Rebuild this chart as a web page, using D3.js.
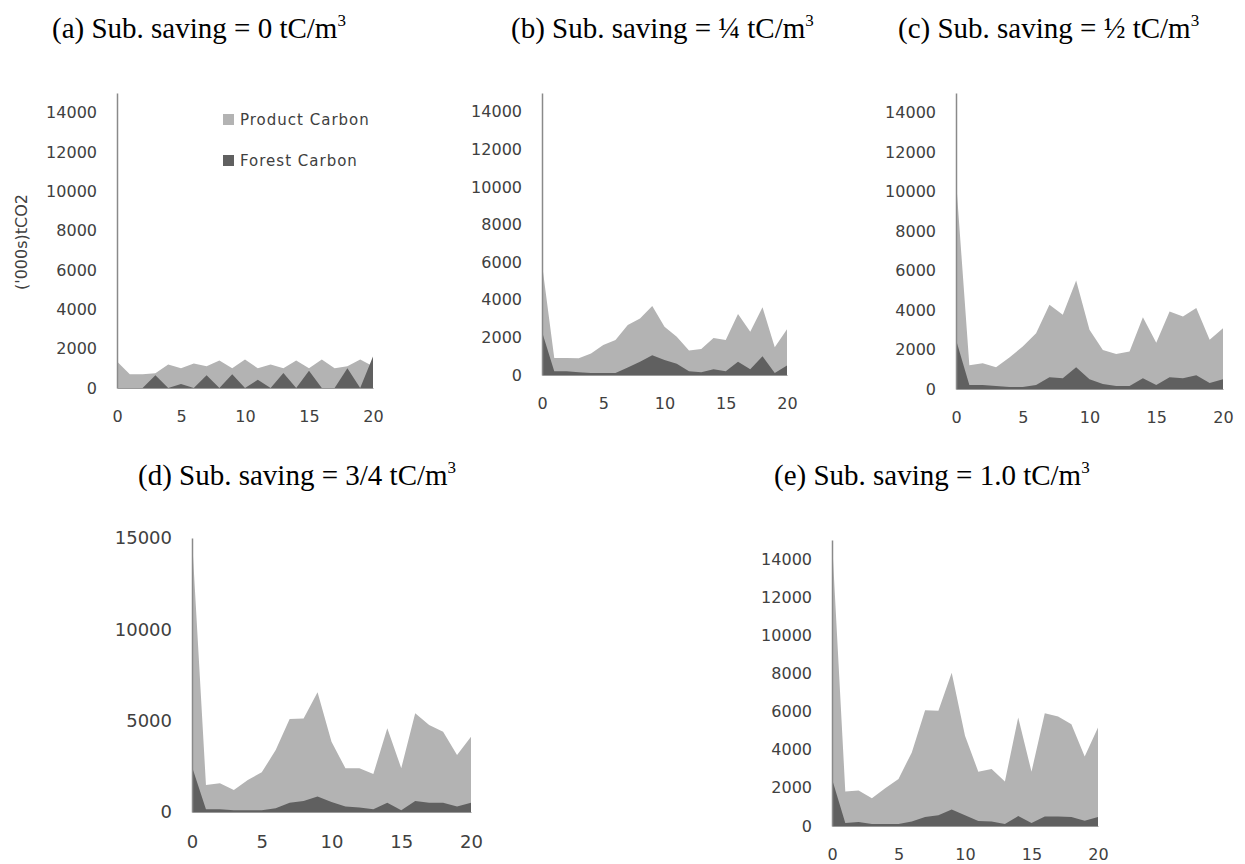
<!DOCTYPE html>
<html>
<head>
<meta charset="utf-8">
<style>
  body { margin: 0; background: #fff; }
  .tick text { font-family: "DejaVu Sans", sans-serif; fill: #404040; }
  .title { font-family: "Liberation Serif", "Times New Roman", serif; fill: #000; }
  .legend text { font-family: "DejaVu Sans", sans-serif; fill: #404040; font-size: 15px; letter-spacing: 1px; }
</style>
</head>
<body>
<svg width="1245" height="864"></svg>
<script src="https://cdn.jsdelivr.net/npm/d3@7"></script>
<script>
// years on the x axis
const years = [0, 1, 2, 3, 4, 5, 6, 7, 8, 9, 10, 11, 12, 13, 14, 15, 16, 17, 18, 19, 20];

// ('000s) tCO2
const productA = [1350, 700, 700, 750, 1200, 1000, 1250, 1100, 1400, 1000, 1450, 1000, 1200, 1000, 1400, 1000, 1450, 1000, 1100, 1450, 1100];
const forestA  = [0, 0, 0, 650, 0, 200, 0, 650, 0, 700, 0, 420, 0, 760, 0, 880, 0, 0, 1000, 0, 1600];

const productB = [5900, 900, 900, 890, 1150, 1600, 1860, 2660, 3010, 3670, 2570, 2040, 1300, 1380, 1970, 1860, 3250, 2300, 3600, 1470, 2440];
const forestB  = [2300, 200, 200, 150, 100, 100, 100, 400, 700, 1050, 800, 600, 200, 150, 300, 200, 700, 300, 1000, 100, 500];

const productC = [10600, 1200, 1300, 1100, 1600, 2150, 2830, 4270, 3760, 5500, 3000, 1980, 1780, 1900, 3640, 2350, 3930, 3670, 4100, 2490, 3080];
const forestC  = [2500, 200, 200, 150, 100, 100, 200, 600, 550, 1100, 500, 250, 150, 150, 550, 200, 600, 550, 700, 300, 500];

const productD = [15000, 1480, 1570, 1200, 1750, 2170, 3390, 5090, 5120, 6550, 3850, 2390, 2390, 2080, 4580, 2400, 5400, 4760, 4390, 3120, 4120];
const forestD  = [2480, 150, 150, 100, 100, 100, 200, 500, 600, 850, 550, 300, 250, 150, 500, 100, 600, 500, 500, 300, 500];

const productE = [15000, 1810, 1860, 1460, 1980, 2470, 3860, 6070, 6040, 8040, 4730, 2850, 2990, 2330, 5690, 2850, 5920, 5740, 5340, 3650, 5170];
const forestE  = [2470, 160, 210, 100, 100, 100, 240, 470, 560, 870, 560, 260, 240, 100, 520, 160, 500, 500, 470, 280, 470];

const ticks2000 = [0, 2000, 4000, 6000, 8000, 10000, 12000, 14000];
const ticks5000 = [0, 5000, 10000, 15000];
const xTicks = [0, 5, 10, 15, 20];

const titles = [
  ["(a) Sub. saving = 0 tC/m", "3"],
  ["(b) Sub. saving = \u00bc tC/m", "3"],
  ["(c) Sub. saving = \u00bd tC/m", "3"],
  ["(d) Sub. saving = 3/4 tC/m", "3"],
  ["(e) Sub. saving = 1.0 tC/m", "3"]
];

const legendLabels = ["Product Carbon", "Forest Carbon"];
const colProduct = "#b3b3b3", colForest = "#606060";

// layout of each panel
const panels = [
  { product: productA, forest: forestA, x0: 117, x1: 373, y0: 388, y1: 93,  yt: ticks2000, fs: 16, tx: 52,  ty: 38 },
  { product: productB, forest: forestB, x0: 542, x1: 787, y0: 375, y1: 93,  yt: ticks2000, fs: 16, tx: 511, ty: 38 },
  { product: productC, forest: forestC, x0: 956, x1: 1223, y0: 389, y1: 93, yt: ticks2000, fs: 16, tx: 898, ty: 38 },
  { product: productD, forest: forestD, x0: 192, x1: 471, y0: 812, y1: 538, yt: ticks5000, fs: 18, tx: 138, ty: 485 },
  { product: productE, forest: forestE, x0: 832, x1: 1098, y0: 826, y1: 540, yt: ticks2000, fs: 16, tx: 774, ty: 485 }
];

const svg = d3.select("svg");

panels.forEach((p, i) => {
  const x = d3.scaleLinear().domain([0, 20]).range([p.x0, p.x1]);
  const y = d3.scaleLinear().domain([0, 15000]).range([p.y0, p.y1]);
  const g = svg.append("g");

  const area = vals => d3.area()
    .x((d, k) => x(years[k]))
    .y0(y(0))
    .y1(d => y(d))(vals);

  g.append("path").attr("d", area(p.product)).attr("fill", colProduct);
  g.append("path").attr("d", area(p.forest)).attr("fill", colForest);

  const ya = g.append("g")
    .attr("transform", `translate(${p.x0},0)`)
    .call(d3.axisLeft(y).tickValues(p.yt).tickSize(0).tickSizeOuter(0).tickPadding(20).tickFormat(d3.format("d")));
  ya.select(".domain").attr("stroke", "#8a8a8a").attr("stroke-width", 1.5);
  ya.selectAll(".tick text").style("font-size", p.fs + "px");

  const xa = g.append("g")
    .attr("transform", `translate(0,${p.y0})`)
    .call(d3.axisBottom(x).tickValues(xTicks).tickSize(0).tickSizeOuter(0).tickPadding(23));
  xa.select(".domain").attr("stroke", "#9a9a9a").attr("stroke-width", 1);
  xa.selectAll(".tick text").style("font-size", p.fs + "px");

  const t = svg.append("text").attr("class", "title")
    .attr("x", p.tx).attr("y", p.ty).style("font-size", "29px");
  t.append("tspan").text(titles[i][0]);
  t.append("tspan").text(titles[i][1]).style("font-size", "17px").attr("dy", -12);
});

// y axis title on panel (a)
svg.append("text")
  .attr("transform", "translate(27,242) rotate(-90)")
  .attr("text-anchor", "middle")
  .style("font-family", "DejaVu Sans, sans-serif")
  .style("font-size", "16px")
  .attr("fill", "#404040")
  .text("('000s)tCO2");

// legend on panel (a)
const lg = svg.append("g").attr("class", "legend");
[colProduct, colForest].forEach((c, k) => {
  const yy = 120 + k * 41;
  lg.append("rect").attr("x", 223).attr("y", yy - 6).attr("width", 11).attr("height", 11).attr("fill", c);
  lg.append("text").attr("x", 240).attr("y", yy + 5).text(legendLabels[k]);
});
</script>
</body>
</html>
